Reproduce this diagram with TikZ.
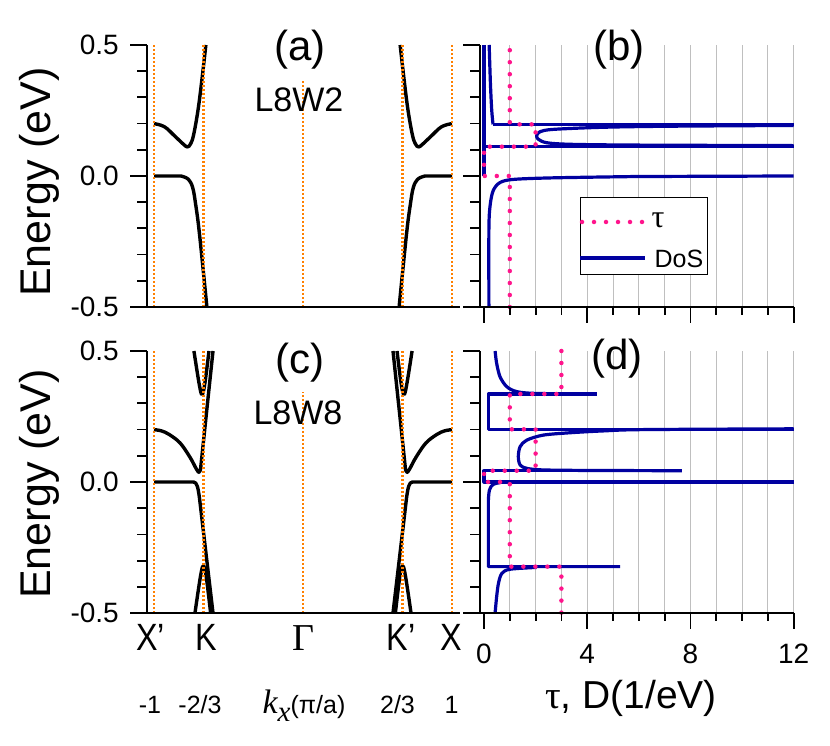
\documentclass[tikz,border=0pt]{standalone}
\usepackage{fontspec}
\setmainfont{Liberation Sans}
\newfontfamily\greekfont{Liberation Serif}
\newfontfamily\narrowfont[FakeStretch=0.85]{Liberation Sans}
\definecolor{korange}{RGB}{255,128,0}
\definecolor{dosblue}{RGB}{0,0,160}
\definecolor{taupink}{RGB}{255,20,140}

\begin{document}
\begin{tikzpicture}[x=1pt, y=1pt,
    band/.style={black, line width=3.4pt, line join=round},
    kline/.style={korange, line width=2.4pt, dash pattern=on 2.2pt off 1.8pt},
    dosline/.style={dosblue, line width=3.2pt, line join=round},
    tauline/.style={taupink, line width=4.5pt, line cap=round, dash pattern=on 0pt off 12pt},
    gridline/.style={black!25, line width=1pt},
    axis/.style={black, line width=1.8pt},
    ticklabel/.style={inner sep=0pt, font=\fontsize{28}{30}\selectfont},
    panellabel/.style={inner sep=0pt, font=\fontsize{42}{46}\selectfont},
    namelabel/.style={inner sep=0pt, font=\fontsize{34}{38}\selectfont},
    ylabel/.style={inner sep=0pt, rotate=90, font=\fontsize{43}{46}\selectfont},
    klabel/.style={inner sep=0pt, anchor=base, font=\narrowfont\fontsize{38}{40}\selectfont},
    kvalue/.style={inner sep=0pt, anchor=base, font=\fontsize{25}{27}\selectfont}]
\useasboundingbox (0,0) rectangle (830,745);

% Panel (a): bands of L8W2
\begin{scope}[shift={(303,569)}, x=149pt, y=262pt]
  \foreach \s in {1,-1} {
    \begin{scope}[xscale=\s]
      \draw[band] (-1,0) -- plot[smooth, tension=0.6] coordinates {(-0.82,0) (-0.77,-0.012) (-0.74,-0.045) (-0.72,-0.11) (-0.695,-0.22) (-0.645,-0.5)};
      \draw[band] plot[smooth, tension=0.6] coordinates {(-1,0.2) (-0.93,0.188) (-0.86,0.152) (-0.80,0.12) (-0.775,0.111) (-0.755,0.122) (-0.735,0.155) (-0.705,0.25) (-0.678,0.37) (-0.652,0.5)};
    \end{scope}
  }
  \foreach \k in {-1,-2/3,2/3,1}
    \draw[kline] (\k,-0.5) -- (\k,0.5);
  \draw[kline] (0,-0.5) -- (0,0.366);
\end{scope}

% Panel (c): bands of L8W8
\begin{scope}[shift={(303,263)}, x=149pt, y=262pt]
  \foreach \s in {1,-1} {
    \begin{scope}[xscale=\s]
      \draw[band] (-1,0) -- (-0.735,0) .. controls (-0.712,0) and (-0.705,-0.02) .. (-0.695,-0.06) -- (-0.604,-0.5);
      \draw[band] plot[smooth, tension=0.6] coordinates {(-1,0.2) (-0.95,0.195) (-0.9,0.182) (-0.825,0.149) (-0.758,0.094) (-0.718,0.052) (-0.699,0.037) (-0.688,0.047)} -- (-0.604,0.5);
      \draw[band] plot[smooth, tension=0.6] coordinates {(-0.732,0.5) (-0.697,0.375) (-0.678,0.334) (-0.659,0.375) (-0.631,0.5)};
      \draw[band] plot[smooth, tension=0.6] coordinates {(-0.725,-0.5) (-0.688,-0.36) (-0.669,-0.321) (-0.650,-0.36) (-0.620,-0.5)};
    \end{scope}
  }
  \foreach \k in {-1,-2/3,2/3,1}
    \draw[kline] (\k,-0.5) -- (\k,0.5);
  \draw[kline] (0,-0.5) -- (0,0.343);
\end{scope}

% Panel (b): DoS and tau of L8W2
\begin{scope}[shift={(484,569)}, x=25.8pt, y=262pt]
  \foreach \d in {1,...,12}
    \draw[gridline] (\d,-0.5) -- (\d,0.5);
  \draw[dosline] plot[smooth, tension=0.5] coordinates {(0.19,-0.5) (0.19,-0.2) (0.24,-0.11) (0.36,-0.055) (0.62,-0.025) (1.14,-0.013) (2.7,-0.007) (5.9,-0.002)} -- (12,0);
  \draw[dosline] (0,0.5) -- (0,0);
  \draw[dosline] (0,0.112) -- (12,0.112);
  \draw[dosline] plot[smooth, tension=0.5] coordinates {(12,0.116) (5.9,0.118) (3.34,0.121) (2.43,0.127) (2.11,0.14) (2.04,0.153) (2.17,0.169) (2.69,0.178) (4.63,0.186) (7.22,0.19) (12,0.193)};
  \draw[dosline] (12,0.197) -- (0.35,0.197);
  \draw[dosline] plot[smooth, tension=0.5] coordinates {(0.35,0.197) (0.3,0.25) (0.25,0.35) (0.2,0.5)};
  \draw[tauline] (1,-0.5) -- (1,0) -- (0,0) -- (0,0.112) -- (2,0.112) -- (2,0.197) -- (1,0.197) -- (1,0.5);
\end{scope}

% Legend of panel (b)
\draw[black, line width=1pt, fill=white] (580,470) rectangle (707,547);
\draw[tauline] (582,523) -- (643,523);
\node[inner sep=0pt, font=\greekfont\fontsize{32}{34}\selectfont] (legtau) at (658,525) {τ};
\draw[dosline] (580,487) -- (645,487);
\node[inner sep=0pt, font=\fontsize{25}{27}\selectfont] (legdos) at (679,486) {DoS};

% Panel (d): DoS and tau of L8W8
\begin{scope}[shift={(484,263)}, x=25.8pt, y=262pt]
  \foreach \d in {1,...,12}
    \draw[gridline] (\d,-0.5) -- (\d,0.5);
  \draw[dosline] plot[smooth, tension=0.5] coordinates {(0.43,0.5) (0.49,0.453) (0.62,0.402) (0.88,0.364) (1.27,0.345) (2.04,0.338) (4.37,0.336)};
  \draw[dosline] (4.37,0.336) -- (0.17,0.336) -- (0.17,0.201) -- (12,0.201);
  \draw[dosline] plot[smooth, tension=0.5] coordinates {(12,0.203) (6.18,0.2) (4.63,0.195) (3.34,0.188) (2.3,0.179) (1.66,0.16) (1.4,0.135) (1.33,0.097) (1.4,0.065) (1.66,0.052) (2.3,0.046) (4,0.044)} -- (7.67,0.043);
  \draw[dosline] (7.67,0.043) -- (0,0.043) -- (0,0) -- (12,0);
  \draw[dosline] plot[smooth, tension=0.5] coordinates {(0.75,0) (0.36,-0.009) (0.21,-0.031) (0.17,-0.069)} -- (0.17,-0.323) -- (5.28,-0.323);
  \draw[dosline] plot[smooth, tension=0.5] coordinates {(2.04,-0.326) (1.01,-0.333) (0.69,-0.349) (0.56,-0.387) (0.49,-0.438) (0.43,-0.5)};
  \draw[tauline] (3,0.5) -- (3,0.336) -- (1,0.336) -- (1,0.201) -- (2,0.201) -- (2,0.043) -- (0,0.043) -- (0,0) -- (1,0) -- (1,-0.323) -- (3,-0.323) -- (3,-0.5);
\end{scope}

% Axes of the band panels
\foreach \yz in {569,263} {
  \draw[axis] (147,\yz-131) -- (147,\yz+131);
  \draw[axis] (147,\yz-131) -- (460,\yz-131);
  \foreach \e in {-5,...,5}
    \draw[axis] (137,\yz+26.2*\e) -- (147,\yz+26.2*\e);
  \foreach \e in {-5,0,5}
    \draw[axis] (130,\yz+26.2*\e) -- (147,\yz+26.2*\e);
}

% Axes of the DoS panels
\foreach \yz in {569,263} {
  \draw[axis] (480,\yz-131) -- (480,\yz+131);
  \draw[axis] (480,\yz-131) -- (793.6,\yz-131);
  \foreach \e in {-5,...,5}
    \draw[axis] (470,\yz+26.2*\e) -- (480,\yz+26.2*\e);
  \foreach \e in {-5,0,5}
    \draw[axis] (463,\yz+26.2*\e) -- (480,\yz+26.2*\e);
  \foreach \d in {0,...,12}
    \draw[axis] (484+25.8*\d,\yz-131) -- (484+25.8*\d,\yz-139);
  \foreach \d in {0,4,8,12}
    \draw[axis] (484+25.8*\d,\yz-131) -- (484+25.8*\d,\yz-147);
}

% Energy labels
\foreach \yz/\p in {569/a,263/c} {
  \node[ticklabel, anchor=east] (up\p) at (119,\yz+131) {0.5};
  \node[ticklabel, anchor=east] (zero\p) at (119,\yz) {0.0};
  \node[ticklabel, anchor=east] (down\p) at (119,\yz-131) {-0.5};
}
\node[ylabel] (energya) at (39,563) {Energy (eV)};
\node[ylabel] (energyc) at (39,261) {Energy (eV)};

% Panel names
\node[panellabel] (pa) at (300,695) {(a)};
\node[panellabel] (pb) at (619,695) {(b)};
\node[panellabel] (pc) at (300,382) {(c)};
\node[panellabel] (pd) at (617,386) {(d)};
\node[namelabel] (na) at (299,645) {L8W2};
\node[namelabel] (nc) at (298,332) {L8W8};

% k points and their values
\node[klabel] (kxa) at (150.5,95) {X’};
\node[klabel] (kka) at (206.5,95) {K};
\node[klabel] (kg) at (303.5,95) {\greekfont Γ};
\node[klabel] (kkb) at (401,95) {K’};
\node[klabel] (kxb) at (451.5,95) {X};
\node[kvalue] (va) at (150,32) {-1};
\node[kvalue] (vb) at (200,32) {-2/3};
\node[kvalue] (vk) at (304,32) {{\greekfont\itshape\fontsize{34}{36}\selectfont k\raisebox{-8pt}{\fontsize{29}{31}\selectfont x}}(π/a)};
\node[kvalue] (vc) at (397.5,32) {2/3};
\node[kvalue] (vd) at (451.5,32) {1};

% DoS axis labels
\node[ticklabel, anchor=base] (d0) at (484,82) {0};
\node[ticklabel, anchor=base] (d4) at (587.2,82) {4};
\node[ticklabel, anchor=base] (d8) at (690.4,82) {8};
\node[ticklabel, anchor=base] (d12) at (793.6,82) {12};
\node[inner sep=0pt, anchor=base, font=\fontsize{39}{42}\selectfont] (dlabel) at (631,37) {{\greekfont τ}, D(1/eV)};
\end{tikzpicture}
\end{document}
